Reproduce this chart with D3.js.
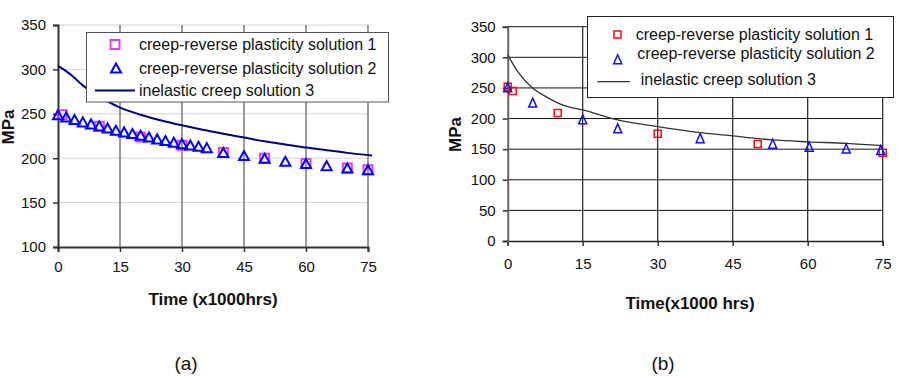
<!DOCTYPE html>
<html>
<head>
<meta charset="utf-8">
<script src="https://cdn.jsdelivr.net/npm/d3@7"></script>
<style>
  html, body { margin: 0; padding: 0; background: #fff; }
  svg { display: block; }
  text { font-family: "Liberation Sans", Arial, sans-serif; }
</style>
</head>
<body>
<svg id="chart" width="899" height="376"></svg>
<script>
// ---------- Data ----------
const xTicks = [0, 15, 30, 45, 60, 75];
const yTicksA = [100, 150, 200, 250, 300, 350];
const yTicksB = [0, 50, 100, 150, 200, 250, 300, 350];
const seriesNames = ["creep-reverse plasticity solution 1", "creep-reverse plasticity solution 2", "inelastic creep solution 3"];

// Panel (a)
const a_sol1_t = [1, 10, 20, 30, 40, 50, 60, 70, 75];
const a_sol1_v = [249, 236, 224, 214.5, 206.3, 200, 194, 189, 187];
const a_sol2_t = [0, 2, 4, 6, 8, 10, 12, 14, 16, 18, 20, 22, 24, 26, 28, 30, 32, 34, 36, 40, 45, 50, 55, 60, 65, 70, 75];
const a_sol2_v = [249, 246.5, 243.6, 240.9, 238.6, 236.4, 234.1, 231.5, 229.6, 227.8, 225.8, 223.9, 221.7, 219.8, 217.9, 216.4, 214.9, 213.4, 211.9, 206.3, 202.9, 199.9, 196.5, 193.9, 191.6, 189, 187.1];
const a_sol3_t = [0, 3, 6, 9, 12, 15, 20, 25, 30, 35, 40, 45, 50, 55, 60, 65, 70, 76];
const a_sol3_v = [304, 294.5, 282, 272, 264, 257, 249, 242.5, 237, 232, 227.5, 223.3, 219, 215.5, 212, 209, 206, 203];

// Panel (b)
const b_sol1_t = [0, 1, 10, 30, 50, 75];
const b_sol1_v = [252, 245, 209, 175, 158.5, 144.3];
const b_sol2_t = [0, 5, 15, 22, 38.5, 53, 60.3, 67.7, 74.6];
const b_sol2_v = [251, 226, 198.8, 184, 168, 159, 154, 151, 148.7];
const b_sol3_t = [0, 1.9, 4.8, 7.8, 11.5, 15, 22, 30, 38.5, 45, 53, 60, 67.8, 75];
const b_sol3_v = [304, 278, 251, 235, 220.6, 214, 197.7, 186.8, 177, 171.6, 165, 162, 159.5, 155.7];

// ---------- Helpers ----------
const svg = d3.select("#chart");
const zip = (t, v) => t.map((d, i) => [d, v[i]]);

function squarePath(s) {
  const h = s / 2;
  return `M${-h},${-h}H${h}V${h}H${-h}Z`;
}
function trianglePath(w, hgt) {
  return `M0,${-hgt / 2}L${w / 2},${hgt / 2}L${-w / 2},${hgt / 2}Z`;
}

// ---------- Panel (a) ----------
(function () {
  const g = svg.append("g");
  const x = d3.scaleLinear().domain([0, 75]).range([58, 368]);
  const y = d3.scaleLinear().domain([100, 350]).range([247, 25]);

  g.append("g").selectAll("line").data(yTicksA.slice(1)).join("line")
    .attr("x1", x(0)).attr("x2", x(75))
    .attr("y1", d => y(d)).attr("y2", d => y(d))
    .attr("stroke", "#d4d4d4").attr("stroke-width", 1);
  g.append("g").selectAll("line").data(xTicks.slice(1)).join("line")
    .attr("x1", d => x(d)).attr("x2", d => x(d))
    .attr("y1", y(350)).attr("y2", y(100))
    .attr("stroke", "#7a7a7a").attr("stroke-width", 1.5);

  const xAxis = d3.axisBottom(x).tickValues(xTicks).tickSize(5).tickPadding(9).tickFormat(d3.format("d"));
  const yAxis = d3.axisLeft(y).tickValues(yTicksA).tickSize(5).tickPadding(7).tickFormat(d3.format("d"));
  const gx = g.append("g").attr("transform", `translate(0,${y(100)})`).call(xAxis);
  const gy = g.append("g").attr("transform", `translate(${x(0)},0)`).call(yAxis);
  [gx, gy].forEach(ax => {
    ax.select(".domain").attr("stroke", "#333").attr("stroke-width", 2);
    ax.selectAll(".tick line").attr("stroke", "#333").attr("stroke-width", 1.5);
    ax.selectAll("text").attr("font-size", 15).attr("fill", "#111")
      .attr("font-family", "Liberation Sans, Arial, sans-serif");
  });

  const line = d3.line().x(d => x(d[0])).y(d => y(d[1])).curve(d3.curveMonotoneX);
  g.append("path").datum(zip(a_sol3_t, a_sol3_v)).attr("d", line)
    .attr("fill", "none").attr("stroke", "#000080").attr("stroke-width", 2);

  g.append("g").selectAll("path").data(zip(a_sol1_t, a_sol1_v)).join("path")
    .attr("transform", d => `translate(${x(d[0])},${y(d[1])})`)
    .attr("d", squarePath(9)).attr("fill", "none").attr("stroke", "#e83ce8").attr("stroke-width", 2);
  g.append("g").selectAll("path").data(zip(a_sol2_t, a_sol2_v)).join("path")
    .attr("transform", d => `translate(${x(d[0])},${y(d[1])})`)
    .attr("d", trianglePath(10, 9)).attr("fill", "none").attr("stroke", "#0000ff").attr("stroke-width", 2)
    .attr("stroke-linejoin", "miter");

  const lg = g.append("g");
  lg.append("rect").attr("x", 86.5).attr("y", 32.5).attr("width", 302).attr("height", 69.5)
    .attr("fill", "#fff").attr("stroke", "#555").attr("stroke-width", 1);
  const rows = [44.5, 68, 90.5];
  lg.append("path").attr("transform", `translate(115,${rows[0]})`).attr("d", squarePath(9))
    .attr("fill", "none").attr("stroke", "#e83ce8").attr("stroke-width", 2);
  lg.append("path").attr("transform", `translate(116,${rows[1]})`).attr("d", trianglePath(10, 9))
    .attr("fill", "none").attr("stroke", "#0000ff").attr("stroke-width", 2);
  lg.append("line").attr("x1", 95).attr("x2", 135).attr("y1", rows[2]).attr("y2", rows[2])
    .attr("stroke", "#000080").attr("stroke-width", 2);
  lg.selectAll("text.lab").data(seriesNames).join("text").attr("class", "lab")
    .attr("x", 139).attr("y", (d, i) => rows[i]).attr("dy", "0.36em")
    .attr("font-size", 16).attr("fill", "#111").text(d => d);

  g.append("text").attr("x", 213).attr("y", 299).attr("dy", "0.36em").attr("text-anchor", "middle")
    .attr("font-size", 17).attr("font-weight", "bold").attr("fill", "#111").text("Time (x1000hrs)");
  g.append("text").attr("transform", "translate(14,127) rotate(-90)").attr("text-anchor", "middle")
    .attr("font-size", 17).attr("font-weight", "bold").attr("fill", "#111").text("MPa");
  g.append("text").attr("x", 186).attr("y", 370).attr("text-anchor", "middle")
    .attr("font-size", 19).attr("font-family", "Liberation Serif, Times New Roman, serif")
    .attr("fill", "#111").text("(a)");
})();

// ---------- Panel (b) ----------
(function () {
  const g = svg.append("g");
  const x = d3.scaleLinear().domain([0, 75]).range([507.7, 882.7]);
  const y = d3.scaleLinear().domain([0, 350]).range([241, 26.7]);

  g.append("g").selectAll("line").data(yTicksB.slice(1)).join("line")
    .attr("x1", x(0)).attr("x2", x(75))
    .attr("y1", d => y(d)).attr("y2", d => y(d))
    .attr("stroke", "#111").attr("stroke-width", 1);
  g.append("g").selectAll("line").data(xTicks.slice(1)).join("line")
    .attr("x1", d => x(d)).attr("x2", d => x(d))
    .attr("y1", y(350)).attr("y2", y(0))
    .attr("stroke", "#222").attr("stroke-width", 1.2);

  const xAxis = d3.axisBottom(x).tickValues(xTicks).tickSize(5).tickPadding(12).tickFormat(d3.format("d"));
  const yAxis = d3.axisLeft(y).tickValues(yTicksB).tickSize(5).tickPadding(7).tickFormat(d3.format("d"));
  const gx = g.append("g").attr("transform", `translate(0,${y(0)})`).call(xAxis);
  const gy = g.append("g").attr("transform", `translate(${x(0)},0)`).call(yAxis);
  gx.select(".domain").attr("stroke", "#222").attr("stroke-width", 1.5);
  gy.select(".domain").attr("stroke", "#666").attr("stroke-width", 2);
  [gx, gy].forEach(ax => {
    ax.selectAll(".tick line").attr("stroke", "#333").attr("stroke-width", 1.5);
    ax.selectAll("text").attr("font-size", 15).attr("fill", "#111")
      .attr("font-family", "Liberation Sans, Arial, sans-serif");
  });

  const line = d3.line().x(d => x(d[0])).y(d => y(d[1])).curve(d3.curveMonotoneX);
  g.append("path").datum(zip(b_sol3_t, b_sol3_v)).attr("d", line)
    .attr("fill", "none").attr("stroke", "#333").attr("stroke-width", 1.3);

  g.append("g").selectAll("path").data(zip(b_sol1_t, b_sol1_v)).join("path")
    .attr("transform", d => `translate(${x(d[0])},${y(d[1])})`)
    .attr("d", squarePath(7)).attr("fill", "none").attr("stroke", "#ee1111").attr("stroke-width", 1.5);
  g.append("g").selectAll("path").data(zip(b_sol2_t, b_sol2_v)).join("path")
    .attr("transform", d => `translate(${x(d[0])},${y(d[1])})`)
    .attr("d", trianglePath(8, 9)).attr("fill", "none").attr("stroke", "#1111ee").attr("stroke-width", 1.5);

  const lg = g.append("g");
  lg.append("rect").attr("x", 587.5).attr("y", 16.5).attr("width", 306).attr("height", 81)
    .attr("fill", "#fff").attr("stroke", "#222").attr("stroke-width", 1);
  lg.append("path").attr("transform", "translate(617.5,34.5)").attr("d", squarePath(7))
    .attr("fill", "none").attr("stroke", "#ee1111").attr("stroke-width", 1.5);
  lg.append("path").attr("transform", "translate(617.7,59.3)").attr("d", trianglePath(8, 9))
    .attr("fill", "none").attr("stroke", "#1111ee").attr("stroke-width", 1.5);
  lg.append("line").attr("x1", 597.5).attr("x2", 630).attr("y1", 81.7).attr("y2", 81.7)
    .attr("stroke", "#333").attr("stroke-width", 1.3);
  const tx = [635.7, 637.3, 640.7];
  const ty = [34, 53, 79.3];
  lg.selectAll("text.lab").data(seriesNames).join("text").attr("class", "lab")
    .attr("x", (d, i) => tx[i]).attr("y", (d, i) => ty[i]).attr("dy", "0.36em")
    .attr("font-size", 16).attr("fill", "#111").text(d => d);

  g.append("text").attr("x", 690).attr("y", 302.5).attr("dy", "0.36em").attr("text-anchor", "middle")
    .attr("font-size", 17).attr("font-weight", "bold").attr("fill", "#111").text("Time(x1000 hrs)");
  g.append("text").attr("transform", "translate(461,134.5) rotate(-90)").attr("text-anchor", "middle")
    .attr("font-size", 17).attr("font-weight", "bold").attr("fill", "#111").text("MPa");
  g.append("text").attr("x", 663).attr("y", 370).attr("text-anchor", "middle")
    .attr("font-size", 19).attr("font-family", "Liberation Serif, Times New Roman, serif")
    .attr("fill", "#111").text("(b)");
})();
</script>
</body>
</html>
